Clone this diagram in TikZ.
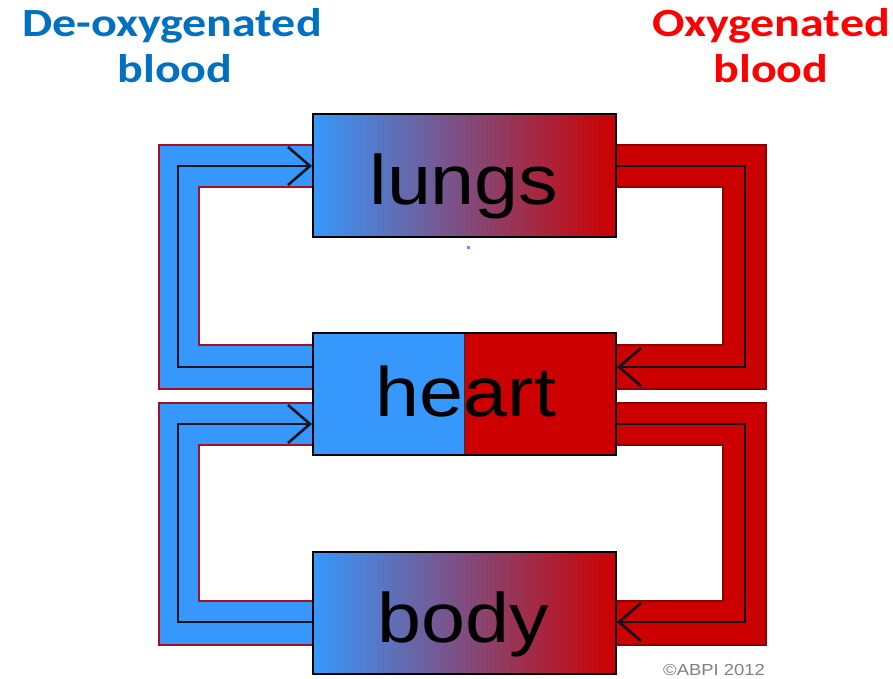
\documentclass[tikz,border=0pt]{standalone}
\usepackage{fontspec}
\usepackage{graphicx}
\setmainfont{Liberation Sans}
\newfontfamily\hdrfont{Carlito}
\usetikzlibrary{arrows.meta,calc}
\definecolor{bblue}{RGB}{54,152,252}
\definecolor{rred}{RGB}{204,0,0}
\definecolor{bandedge}{RGB}{165,15,30}
\definecolor{redge}{RGB}{140,0,0}
\definecolor{hblue}{RGB}{0,112,192}
\definecolor{hred}{RGB}{255,0,0}
\definecolor{lineblk}{RGB}{15,20,30}
\begin{document}
\begin{tikzpicture}[x=1pt,y=-1pt,
  organ/.style={draw=black, line width=2pt, minimum width=303pt, minimum height=122pt, inner sep=0pt},
  gradbox/.style={organ, left color=bblue, right color=rred},
  blueband/.style={fill=bblue, draw=bandedge, line width=2.5pt, line join=miter},
  redband/.style={fill=rred, draw=redge, line width=2.5pt, line join=miter},
  flow/.style={draw=lineblk, line width=2.6pt, -{Straight Barb[length=22pt,width=38pt]}},
  boxtext/.style={anchor=base, inner sep=0pt, font=\fontsize{70}{80}\selectfont},
  hdr/.style={anchor=base, inner sep=0pt, font=\hdrfont\bfseries\fontsize{40}{48}\selectfont},
]
\useasboundingbox (0,0) rectangle (893,679);
\fill[white] (0,0) rectangle (893,679);

% bands
\path[blueband] (313,145) -- (159,145) -- (159,389) -- (313,389) -- (313,345) -- (199,345) -- (199,187) -- (313,187) -- cycle;
\path[redband] (616,145) -- (766,145) -- (766,389) -- (616,389) -- (616,345) -- (723,345) -- (723,187) -- (616,187) -- cycle;
\path[blueband] (313,403) -- (159,403) -- (159,645) -- (313,645) -- (313,601) -- (199,601) -- (199,445) -- (313,445) -- cycle;
\path[redband] (616,403) -- (766,403) -- (766,645) -- (616,645) -- (616,601) -- (723,601) -- (723,445) -- (616,445) -- cycle;

% boxes
\node[gradbox] (lungs) at (464.5,175.5) {};
\node[organ, path picture={
  \fill[bblue] (path picture bounding box.south west) rectangle (path picture bounding box.north);
  \fill[rred] (path picture bounding box.south) rectangle (path picture bounding box.north east);
  \draw[black!80, line width=1pt] (path picture bounding box.south) -- (path picture bounding box.north);
}] (heart) at (464.5,394) {};
\node[gradbox] (body) at (464.5,612.5) {};

\node[boxtext] (lungstxt) at (464,204) {\scalebox{1.13}[1]{lungs}};
\node[boxtext] (hearttxt) at (466,416) {\scalebox{1.13}[1]{heart}};
\node[boxtext] (bodytxt) at (463.5,642) {\scalebox{1.13}[1]{body}};

% flows
\draw[flow] ([yshift=27pt]heart.west) -- ++(-134,0) |- ([yshift=9.5pt]lungs.west);
\draw[flow] ([yshift=9.5pt]lungs.east) -- ++(128,0) |- ([yshift=27pt]heart.east);
\draw[flow] ([yshift=-9.5pt]body.west) -- ++(-134,0) |- ([yshift=-30pt]heart.west);
\draw[flow] ([yshift=-30pt]heart.east) -- ++(128,0) |- ([yshift=-9.5pt]body.east);

% headers
\node[hdr, text=hblue] (deoxy1) at (172,37) {\scalebox{1.2}[1]{De-oxygenated}};
\node[hdr, text=hblue] (deoxy2) at (175,83) {\scalebox{1.2}[1]{blood}};
\node[hdr, text=hred] (oxy1) at (771,37) {\scalebox{1.2}[1]{Oxygenated}};
\node[hdr, text=hred] (oxy2) at (771,83) {\scalebox{1.2}[1]{blood}};

\node[anchor=base, inner sep=0pt, text=black!50, font=\fontsize{16}{18}\selectfont] (copyr) at (714,675) {\scalebox{1.15}[1]{©ABPI 2012}};
\fill[blue!50] (466.5,246) rectangle (470,248.5);
\end{tikzpicture}
\end{document}
